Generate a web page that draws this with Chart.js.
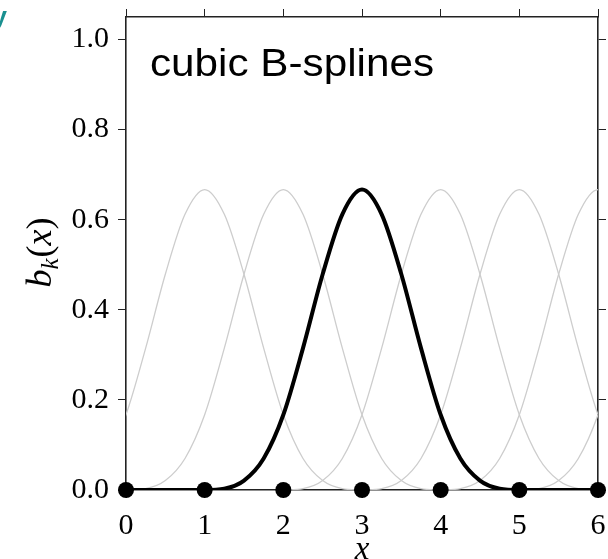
<!DOCTYPE html>
<html>
<head>
<meta charset="utf-8">
<script src="https://cdn.jsdelivr.net/npm/chart.js@4.4.1/dist/chart.umd.min.js"></script>
<style>
  html, body { margin: 0; padding: 0; background: #fff; }
  #wrap { width: 608px; height: 559px; }
</style>
</head>
<body>
<div id="wrap"><canvas id="splineChart" width="608" height="559"></canvas></div>
<script>
// knots (black dots on the x axis)
var knotX = [0, 1, 2, 3, 4, 5, 6];
var knotY = [0, 0, 0, 0, 0, 0, 0];

// shape of one cubic B-spline, offsets from its centre
var shapeOffsets = [-2, -1.75, -1.5, -1.25, -1, -0.75, -0.5, -0.25, 0, 0.25, 0.5, 0.75, 1, 1.25, 1.5, 1.75, 2];
var shapeValues = [0, 0.003, 0.021, 0.070, 0.167, 0.315, 0.479, 0.612, 0.667, 0.612, 0.479, 0.315, 0.167, 0.070, 0.021, 0.003, 0];

// where each spline sits
var grayCenters = [1, 2, 4, 5, 6, 7];
var blackCenter = 3;

var xTicks = ['0', '1', '2', '3', '4', '5', '6'];
var yTicks = ['0.0', '0.2', '0.4', '0.6', '0.8', '1.0'];

var SERIF = '"Liberation Serif", "DejaVu Serif", serif';
var SPINE = '#222';

function splinePoints(center) {
    var pts = [];
    shapeOffsets.forEach(function (off, i) {
        pts.push({ x: center + off, y: shapeValues[i] });
    });
    return pts;
}

var datasets = [];

// knots on top
datasets.push({
    data: knotX.map(function (x, i) { return { x: x, y: knotY[i] }; }),
    showLine: false,
    pointRadius: 8,
    pointHoverRadius: 8,
    pointBackgroundColor: '#000',
    pointBorderWidth: 0,
    clip: false
});

// the highlighted spline, flat at zero outside its support
var blackPts = [{ x: 0, y: 0 }].concat(splinePoints(blackCenter), [{ x: 6, y: 0 }]);
datasets.push({
    data: blackPts,
    showLine: true,
    borderColor: '#000',
    borderWidth: 4,
    pointRadius: 0,
    cubicInterpolationMode: 'monotone'
});

grayCenters.forEach(function (c) {
    datasets.push({
        data: splinePoints(c),
        showLine: true,
        borderColor: '#cdcdcd',
        borderWidth: 1.3,
        pointRadius: 0,
        cubicInterpolationMode: 'monotone'
    });
});

// text that Chart.js axes can't do (subscripts, in-plot label)
var labelsPlugin = {
    id: 'labels',
    afterDraw: function (chart) {
        var ctx = chart.ctx;
        var area = chart.chartArea;
        ctx.save();

        // in-plot title
        ctx.font = '38px "Liberation Sans", Arial, sans-serif';
        ctx.fillStyle = '#000';
        ctx.textBaseline = 'alphabetic';
        ctx.textAlign = 'left';
        var title = 'cubic B-splines';
        var w = ctx.measureText(title).width;
        ctx.save();
        ctx.translate(area.left + 24, area.top + 59);
        ctx.scale(284 / w, 1);
        ctx.fillText(title, 0, 0);
        ctx.restore();

        // x axis label
        ctx.font = 'italic 33px ' + SERIF;
        ctx.textAlign = 'center';
        ctx.fillText('x', (area.left + area.right) / 2, 559);

        // y axis label b_k(x), rotated
        var parts = [
            { t: 'b', f: 'italic 36px ' + SERIF, dy: 0 },
            { t: 'k', f: 'italic 25px ' + SERIF, dy: 7 },
            { t: '(', f: '36px ' + SERIF, dy: 0 },
            { t: 'x', f: 'italic 36px ' + SERIF, dy: 0 },
            { t: ')', f: '36px ' + SERIF, dy: 0 }
        ];
        var total = 0;
        parts.forEach(function (p) { ctx.font = p.f; p.w = ctx.measureText(p.t).width; total += p.w; });
        ctx.save();
        ctx.translate(51, 253);
        ctx.rotate(-Math.PI / 2);
        ctx.textAlign = 'left';
        var cx = -total / 2;
        parts.forEach(function (p) {
            ctx.font = p.f;
            ctx.fillText(p.t, cx, p.dy);
            cx += p.w + (p.t === 'k' ? 1 : 0);
        });
        ctx.restore();

        // bit of a neighbouring label cut off at the corner
        ctx.font = 'bold 26px "Liberation Sans", sans-serif';
        ctx.fillStyle = '#1a9090';
        ctx.textAlign = 'right';
        ctx.fillText('y', 7, 25);

        ctx.restore();
    }
};

// pin each axis box to the reference's plot frame (left 126, right 598, top 17, bottom 490)
function fixSize(prop, value) {
    return function (scale) {
        scale[prop] = value;
        scale.paddingLeft = 0;
        scale.paddingRight = 0;
        scale.paddingTop = 0;
        scale.paddingBottom = 0;
    };
}

var axisGrid = { drawOnChartArea: false, drawTicks: true, tickLength: 8, color: SPINE, lineWidth: 1 };
var axisBorder = { display: true, color: SPINE, width: 1.6 };

new Chart(document.getElementById('splineChart'), {
    type: 'scatter',
    data: { datasets: datasets },
    plugins: [labelsPlugin],
    options: {
        responsive: false,
        animation: false,
        devicePixelRatio: 1,
        layout: { padding: 0 },
        plugins: { legend: { display: false }, tooltip: { enabled: false } },
        events: [],
        scales: {
            x: {
                type: 'linear', position: 'bottom', min: 0, max: 6,
                grid: axisGrid, border: axisBorder,
                ticks: {
                    stepSize: 1, color: '#000', padding: 10, maxRotation: 0,
                    font: { family: SERIF, size: 30 },
                    callback: function (v) { return xTicks[v]; }
                },
                afterFit: fixSize('height', 69)
            },
            x2: {
                type: 'linear', position: 'top', min: 0, max: 6,
                grid: axisGrid, border: axisBorder,
                ticks: { stepSize: 1, display: false },
                afterFit: fixSize('height', 17)
            },
            y: {
                type: 'linear', position: 'left', min: 0, max: 1.05,
                grid: axisGrid, border: axisBorder,
                ticks: {
                    stepSize: 0.2, includeBounds: false, color: '#000', padding: 9,
                    font: { family: SERIF, size: 30 },
                    callback: function (v) { return yTicks[Math.round(v / 0.2)]; }
                },
                afterFit: fixSize('width', 126)
            },
            y2: {
                type: 'linear', position: 'right', min: 0, max: 1.05,
                grid: axisGrid, border: axisBorder,
                ticks: { stepSize: 0.2, includeBounds: false, display: false },
                afterFit: fixSize('width', 10)
            }
        }
    }
});
</script>
</body>
</html>
